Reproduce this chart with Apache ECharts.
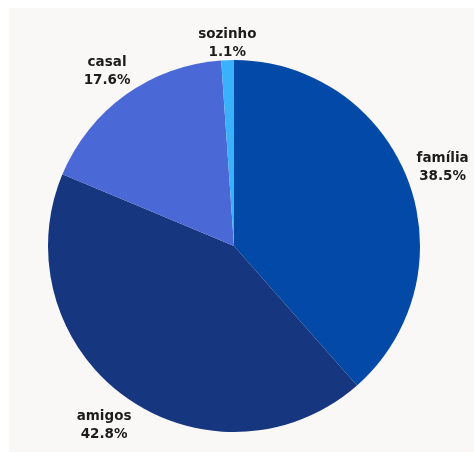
<!DOCTYPE html>
<html>
<head>
<meta charset="utf-8">
<script src="https://cdn.jsdelivr.net/npm/echarts@6/dist/echarts.min.js"></script>
<style>
  html, body { margin: 0; padding: 0; background: #ffffff; }
  #chart { width: 474px; height: 453px; }
</style>
</head>
<body>
<div id="chart"></div>
<script>
// Who people travel with (share of respondents, %)
const categories = ['família', 'amigos', 'casal', 'sozinho'];
const shares = [38.5, 42.8, 17.6, 1.1];
const colors = ['#0349a8', '#16367f', '#4b69d6', '#3ab2fb'];

const chart = echarts.init(document.getElementById('chart'), null, { renderer: 'canvas' });

const sliceData = categories.map((name, i) => ({
  name: name,
  value: shares[i],
  itemStyle: { color: colors[i] }
}));

// Small nudges so the labels clear each other and the pie edge
const labelNudge = {
  'família': [0, 0],
  'amigos': [0, -2],
  'casal': [3, 7],
  'sozinho': [1, 20]
};

// Ring used only to place the labels at a fixed distance outside the pie
const labelData = categories.map((name, i) => ({
  name: name,
  value: shares[i],
  label: { offset: labelNudge[name] }
}));

const center = [234, 246];

chart.setOption({
  backgroundColor: '#ffffff',
  animation: false,
  graphic: [{
    type: 'rect',
    left: 9, top: 8,
    shape: { width: 470, height: 444 },
    style: { fill: '#f9f8f7' },
    silent: true,
    z: -10
  }],
  series: [
    {
      type: 'pie',
      center: center,
      radius: [0, 186],
      startAngle: 90,
      clockwise: true,
      silent: true,
      label: { show: false },
      labelLine: { show: false },
      itemStyle: { borderWidth: 0 },
      data: sliceData
    },
    {
      type: 'pie',
      center: center,
      radius: [205, 235],
      startAngle: 90,
      clockwise: true,
      silent: true,
      itemStyle: { color: 'rgba(0,0,0,0)', borderWidth: 0 },
      label: {
        show: true,
        position: 'inside',
        formatter: (p) => p.name + '\n' + p.value.toFixed(1) + '%',
        fontFamily: 'DejaVu Sans, sans-serif',
        fontWeight: 'bold',
        fontSize: 13.5,
        lineHeight: 18,
        color: '#1c1c1c',
        align: 'center'
      },
      labelLine: { show: false },
      data: labelData
    }
  ]
});
</script>
</body>
</html>
